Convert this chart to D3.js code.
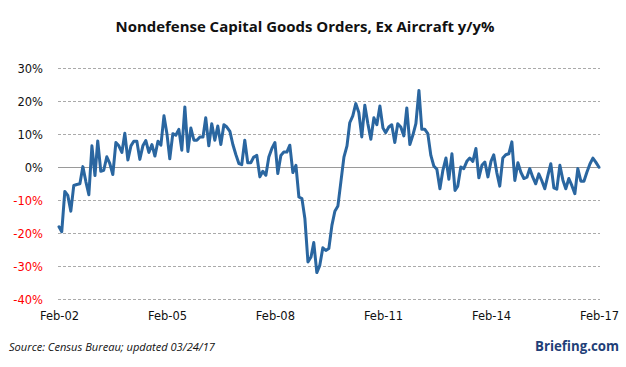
<!DOCTYPE html>
<html><head><meta charset="utf-8">
<script src="https://cdn.jsdelivr.net/npm/d3@7"></script>
<style>body{margin:0;background:#fff}svg{display:block}</style>
</head><body>
<svg id="chart" width="626" height="367"></svg>
<script>
const title = "Nondefense Capital Goods Orders, Ex Aircraft y/y%";
const source = "Source: Census Bureau; updated 03/24/17";
const startMonth = "2002-02";
const values = [
-18,-19.5,-7.3,-8.5,-13.3,-5.5,-5.2,-5,0.2,-4.4,
-8.3,6.5,-2.5,8,-1.2,-0.9,3.2,1.2,-2.2,7.5,
6.5,4.5,10.3,2.2,6.5,7.9,7.9,2.4,6.5,8.1,
4.5,6.9,3.4,7.9,6.7,15.6,10,2.6,10.2,9.7,
11.5,5.2,18.3,4.8,11.9,8.2,8.2,9.2,9.2,15,
6.5,13.2,8.2,12.5,6.9,12.9,12.2,10.9,6.9,3.8,
1.1,0.8,8.2,1.4,1.4,3.1,3.6,-2.9,-1.2,-2.4,
3.1,5.7,7.5,-1.9,3.6,4.6,4.6,6.7,-1.6,0.6,
-9,-9.5,-15.6,-28.7,-27.2,-22.8,-31.9,-29.7,-24.4,-25.2,
-24.6,-17.6,-13.3,-11.7,-4.4,3.1,6.5,13.5,15.6,19.3,
16.6,9.2,18.8,13.2,8.5,15,12.9,18.6,11.9,10.5,
12.2,12.9,7.5,13.2,12.2,9.5,18,6.9,9.7,13.2,
23.3,11.5,11.5,10.2,3.6,0.4,-0.6,-6.5,-0.9,2.8,
-3.6,4.1,-7,-5.7,0.1,-0.4,1.8,2.8,1.8,5.7,
-3.2,0.6,1.6,-2.9,1.8,3.8,-1.6,-5.7,2.8,3.8,
4.1,7.7,-4,1.4,-1.5,-3.4,-3,-0.4,-3,-5,
-2,-4,-6.5,-2.5,1.1,-6.2,-6.6,0.6,-3.9,-6.5,
-3.4,-5.5,-8,-0.4,-4.2,-4.2,-1.5,1,2.8,1.5,
0];
const yTicks = [30,20,10,0,-10,-20,-30,-40];
const xTickLabels = ["Feb-02","Feb-05","Feb-08","Feb-11","Feb-14","Feb-17"];

const svg = d3.select("#chart");
const parse = d3.timeParse("%Y-%m");
const t0 = parse(startMonth);
const data = values.map((v,i)=>({date:d3.timeMonth.offset(t0,i), v}));
const xTickDates = xTickLabels.map((_,k)=>d3.timeMonth.offset(t0,36*k));

const x = d3.scaleTime().domain([data[0].date, data[data.length-1].date]).range([59,599]);
const y = d3.scaleLinear().domain([-40,30]).range([299.3,68.3]);

// title
svg.append("text").attr("x",305).attr("y",32).attr("text-anchor","middle")
  .attr("font-family","'Open Sans', 'DejaVu Sans', sans-serif").attr("font-weight","bold")
  .attr("font-size",14.5).attr("fill","#111")
  .attr("textLength",379).attr("lengthAdjust","spacingAndGlyphs").text(title);

// grid
const grid = svg.append("g");
yTicks.forEach(t=>{
  grid.append("line").attr("x1",58).attr("x2",600).attr("y1",Math.round(y(t))+0.5).attr("y2",Math.round(y(t))+0.5)
    .attr("stroke", t===0 ? "#9a9a9a" : "#aaaaaa").attr("stroke-width",1)
    .attr("stroke-dasharray", t===0 ? null : "3,2");
});

// y axis labels
const yAxis = d3.axisLeft(y).tickValues(yTicks).tickSize(0).tickFormat(d=>d+"%");
const ya = svg.append("g").attr("transform","translate(50,0)").call(yAxis);
ya.select(".domain").remove();
ya.selectAll("text").attr("font-family","'DejaVu Sans', sans-serif").attr("font-size",11.5)
  .attr("fill",d=>d<0?"#ff0000":"#111").attr("dx",-4).attr("dy","0.35em");

// x axis labels
const xAxis = d3.axisBottom(x).tickValues(xTickDates).tickSize(0).tickFormat((d,i)=>xTickLabels[i]);
const xa = svg.append("g").attr("transform","translate(0,309)").call(xAxis);
xa.select(".domain").remove();
xa.selectAll("text").attr("font-family","'DejaVu Sans', sans-serif").attr("font-size",11.5).attr("fill","#111").attr("dy","0.71em");

// line
svg.append("path").datum(data)
  .attr("d", d3.line().x(d=>x(d.date)).y(d=>y(d.v)))
  .attr("fill","none").attr("stroke","#2a66a0").attr("stroke-width",3)
  .attr("stroke-linejoin","round").attr("stroke-linecap","round");

// source
svg.append("text").attr("x",9).attr("y",351).attr("font-family","'Open Sans', 'DejaVu Sans', sans-serif")
  .attr("font-style","italic").attr("font-size",11).attr("fill","#111")
  .attr("textLength",206).attr("lengthAdjust","spacingAndGlyphs").text(source);

// brand
svg.append("text").attr("x",577).attr("y",351).attr("text-anchor","middle")
  .attr("font-family","'Open Sans', 'DejaVu Sans', sans-serif").attr("font-weight","bold")
  .attr("font-size",14.5).attr("fill","#1f3f78")
  .attr("textLength",84).attr("lengthAdjust","spacingAndGlyphs").text("Briefing.com");
</script>
</body></html>
